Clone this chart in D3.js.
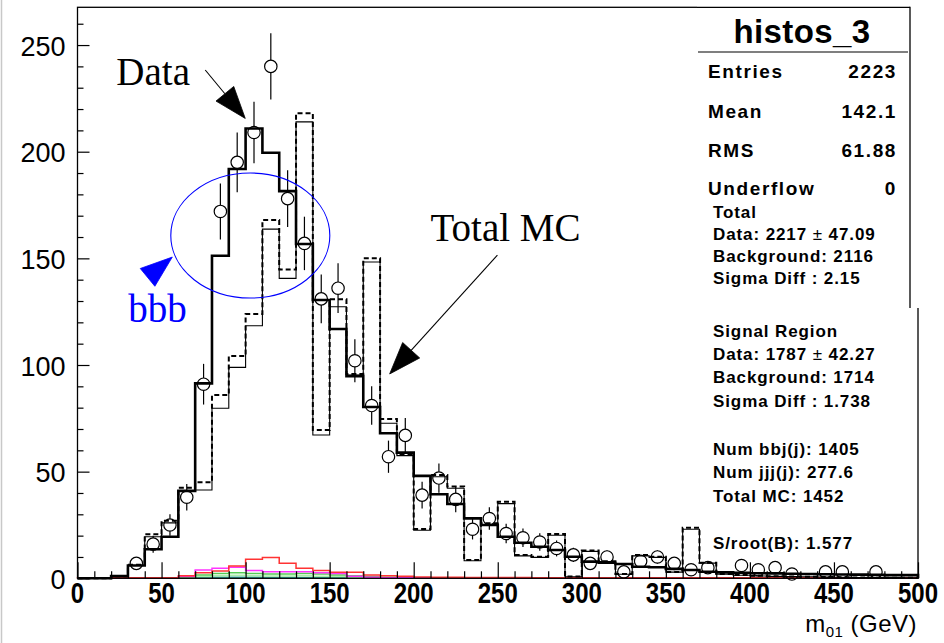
<!DOCTYPE html>
<html>
<head>
<meta charset="utf-8">
<script src="https://cdn.jsdelivr.net/npm/d3@7"></script>
<style>
  body { margin: 0; background: #fff; }
  svg { display: block; font-family: "Liberation Sans", Arial, Helvetica, sans-serif; }
</style>
</head>
<body>
<svg id="chart" width="944" height="643"></svg>
<script>
// ---------------- DATA ----------------
const binLow = [0,10,20,30,40,50,60,70,80,90,100,110,120,130,140,150,160,170,180,190,
  200,210,220,230,240,250,260,270,280,290,300,310,320,330,340,350,360,370,380,390,
  400,410,420,430,440,450,460,470,480,490];
const binWidth = 10;

// thick solid histogram
const histThick = [0,0,1,6,13.6,19.5,41,91.4,151.2,191.9,210.9,199.5,181.5,156.7,130.5,116.9,94.8,80.3,68,58.9,
  48,39.4,34.8,28.1,25,19.5,16.7,14.8,13.3,10.1,7.8,7.3,6.7,5.4,5.2,4.4,3.9,3.1,2.8,2.6,
  2.4,2.3,2.1,2.0,1.9,1.8,1.7,1.6,1.5,1.5];
// dashed histogram (Total MC)
const histDashed = [0,0,1,6.3,20.7,27,42.5,45,85.9,104.2,123.9,168,144.8,218,69.5,130.8,95.8,150,74.7,58,
  23.1,48.4,43,8.6,25.8,35.9,10.9,10.1,20.8,0.8,13,8,2,10.9,10.1,3,23.7,7.3,2,1.5,
  1.2,1,0.8,0.7,0.6,0.5,0.4,0.3,0.3,0.2];
// thin solid histogram
const histThin = [0,0,1,6,19.5,26,41,41.4,79.7,98.9,118.4,163.7,140.6,214,67.2,127.3,95.3,148.3,72.7,57.5,
  22.5,47.6,42.2,8.2,25.2,35,10.5,9.8,20.2,0.7,12.6,7.8,1.9,10.5,9.8,2.9,23,7.1,1.9,1.4,
  1.1,0.9,0.8,0.7,0.6,0.5,0.4,0.3,0.3,0.2];
// data points (null = empty bin)
const dataCounts = [null,null,null,7,16,25,38,91,172,195,209,240,178,157,131,136,102,81,57,67,
  39,47,37,23,28,21,19,17,14,11,7,10,3,8,10,7,4,5,null,6,
  4,5,2,null,3,3,null,3,null,null];
// small coloured component histograms
const histRed = [0.3,0.3,0.3,0.3,0.3,0.3,1.2,2.6,3.4,5.8,8.9,9.7,7,4.7,3.6,2.8,2.8,1.5,1.2,1,
  0.6,0.5,0.5,0.4,0.4,0.4,0.4,0.3,0.3,0.3,0.3,0.3,0.3,0.3,0.3,0.3,0.3,0.3,0.3,0.3,
  0.3,0.3,0.3,0.3,0.3,0.3,0.3,0.3,0.3,0.3];
const histMagenta = [0,0,0,0,0,0,0.8,3.9,4.7,5.2,3.6,3.1,3.1,3.1,2.6,2.3,1,0.5,0.3,0.2,
  0.2,0.1,0.1,0.1,0.1,0,0,0,0,0,0,0,0,0,0,0,0,0,0,0,0,0,0,0,0,0,0,0,0,0];
const histGreen = [0,0,0,0,0,0,0.5,1.5,2.3,2.6,2.3,2,2,2.3,2,1.5,1.2,0.8,0.5,0.4,
  0.3,0.3,0.2,0.2,0.2,0.1,0.1,0.1,0.1,0.1,0,0,0,0,0,0,0,0,0,0,0,0,0,0,0,0,0,0,0,0];
const histLightGreen = [0,0,0,0,0,0,0.3,0.8,1.2,1.4,1.2,1.1,1.1,1.2,1,0.8,0.6,0.4,0.3,0.2,
  0.2,0.1,0.1,0.1,0.1,0,0,0,0,0,0,0,0,0,0,0,0,0,0,0,0,0,0,0,0,0,0,0,0,0];
const histTeal = [0,0,0,0,0,0,0.2,0.4,0.5,0.5,0.5,0.4,0.4,0.4,0.3,0.3,0.2,0.2,0.1,0.1,
  0.1,0.1,0,0,0,0,0,0,0,0,0,0,0,0,0,0,0,0,0,0,0,0,0,0,0,0,0,0,0,0];

const yMajorTicks = [0,50,100,150,200,250];
const yMinorTicks = [10,20,30,40,60,70,80,90,110,120,130,140,160,170,180,190,210,220,230,240,260];
const xMajorTicks = [0,50,100,150,200,250,300,350,400,450,500];
const xMinorTicks = [10,20,30,40,60,70,80,90,110,120,130,140,160,170,180,190,210,220,230,240,
  260,270,280,290,310,320,330,340,360,370,380,390,410,420,430,440,460,470,480,490];

const statTitle = "histos_3";
const statRows = [["Entries","2223"],["Mean","142.1"],["RMS","61.88"],["Underflow","0"]];
const statLines = [
  ["Total"], ["Data: 2217 ", "\u00b1", " 47.09"], ["Background: 2116"], ["Sigma Diff : 2.15"],
  ["Signal Region"], ["Data: 1787 ", "\u00b1", " 42.27"], ["Background: 1714"], ["Sigma Diff : 1.738"],
  ["Num bbj(j): 1405"], ["Num jjj(j): 277.6"], ["Total MC: 1452"], ["S/root(B): 1.577"]
];

// annotations in data coordinates
const annoTexts = [
  {t:"Data", x:23.1, y:231.2, color:"#000"},
  {t:"Total MC", x:210, y:158.2, color:"#000"},
  {t:"bbb", x:30.2, y:120.3, color:"#0000ff"}
];
const annoArrows = [
  {x0:76, y0:238.3, x1:99.8, y1:215.6, color:"#000", shaft:true},
  {x0:249.8, y0:151.5, x1:185.7, y1:95.8, color:"#000", shaft:true},
  {x0:41.1, y0:140.7, x1:56.4, y1:150.6, color:"#0000ff", shaft:false}
];
const annoEllipse = {cx:102.8, cy:160.7, rx:47.3, ry:29.3};

// ---------------- DRAW ----------------
const svg = d3.select("#chart");
const x = d3.scaleLinear().domain([0,500]).range([77.5,918]);
const y = d3.scaleLinear().domain([0,267.7]).range([578.3,7.3]);

// left grey edge line
svg.append("line").attr("x1",1.5).attr("x2",1.5).attr("y1",0).attr("y2",643)
  .attr("stroke","#c8c8c8").attr("stroke-width",1.5);

const plot = svg.append("g");

function stepPoints(vals){
  const pts = [[binLow[0], 0]];
  vals.forEach((v,i)=>{ pts.push([binLow[i], v]); pts.push([binLow[i]+binWidth, v]); });
  pts.push([binLow[binLow.length-1]+binWidth, 0]);
  return pts;
}
const line = d3.line().x(d=>x(d[0])).y(d=>y(d[1]));

function drawHist(vals, stroke, width, dash){
  plot.append("path").attr("d", line(stepPoints(vals)))
    .attr("fill","none").attr("stroke",stroke).attr("stroke-width",width)
    .attr("stroke-dasharray", dash || null).attr("stroke-linejoin","miter");
}
drawHist(histTeal, "#33aa99", 1.5);
drawHist(histLightGreen, "#aaeeaa", 1.5);
drawHist(histGreen, "#55cc55", 1.5);
drawHist(histMagenta, "#ff33ff", 1.5);
drawHist(histRed, "#ff3333", 1.5);
drawHist(histThin, "#000", 1.1);
drawHist(histDashed, "#000", 2, "5,3");
drawHist(histThick, "#000", 2.6);

// data points with sqrt(N) errors
const r = 6.2;
const pts = dataCounts.map((v,i)=>({v, xc: binLow[i]+binWidth/2})).filter(d=>d.v!==null);
const dg = plot.append("g");
pts.forEach(d=>{
  const cx = x(d.xc), cy = y(d.v), e = Math.sqrt(d.v);
  const top = y(d.v + e), bot = y(Math.max(0, d.v - e));
  if (cy - r > top) dg.append("line").attr("x1",cx).attr("x2",cx).attr("y1",top).attr("y2",cy-r)
      .attr("stroke","#000").attr("stroke-width",1.2);
  if (cy + r < bot) dg.append("line").attr("x1",cx).attr("x2",cx).attr("y1",cy+r).attr("y2",bot)
      .attr("stroke","#000").attr("stroke-width",1.2);
  dg.append("circle").attr("cx",cx).attr("cy",cy).attr("r",r)
    .attr("fill","none").attr("stroke","#000").attr("stroke-width",1.2);
});

// frame
svg.append("rect").attr("x",x(0)).attr("y",y(267.7)).attr("width",x(500)-x(0)).attr("height",y(0)-y(267.7))
  .attr("fill","none").attr("stroke","#000").attr("stroke-width",1.3);

// y axis
const yAxisMajor = d3.axisLeft(y).tickValues(yMajorTicks).tickSizeInner(-12).tickSizeOuter(0).tickPadding(12);
const ya = svg.append("g").attr("transform",`translate(${x(0)},0)`).call(yAxisMajor);
ya.select(".domain").remove();
ya.selectAll("line").attr("stroke","#000").attr("stroke-width",1.2);
ya.selectAll("text").attr("font-size",27).attr("fill","#000")
  .attr("font-family","'Liberation Sans', Arial, sans-serif").attr("dy","0.37em");
const ym = svg.append("g").attr("transform",`translate(${x(0)},0)`)
  .call(d3.axisLeft(y).tickValues(yMinorTicks).tickSizeInner(-6).tickSizeOuter(0).tickFormat(""));
ym.select(".domain").remove();
ym.selectAll("line").attr("stroke","#000").attr("stroke-width",1.2);

// x axis
const xa = svg.append("g").attr("transform",`translate(0,${y(0)})`)
  .call(d3.axisBottom(x).tickValues(xMajorTicks).tickSizeInner(-16).tickSizeOuter(0).tickFormat(""));
xa.select(".domain").remove();
xa.selectAll("line").attr("stroke","#000").attr("stroke-width",1.2);
const xm = svg.append("g").attr("transform",`translate(0,${y(0)})`)
  .call(d3.axisBottom(x).tickValues(xMinorTicks).tickSizeInner(-7).tickSizeOuter(0).tickFormat(""));
xm.select(".domain").remove();
xm.selectAll("line").attr("stroke","#000").attr("stroke-width",1.2);
svg.append("g").selectAll("text").data(xMajorTicks).join("text")
  .attr("transform", d=>`translate(${x(d)},603) scale(0.8,1)`)
  .attr("text-anchor","middle").attr("font-size",30).attr("font-weight","bold").attr("fill","#000")
  .text(d=>d);

// x axis title
const xt = svg.append("text").attr("x",917).attr("y",632).attr("text-anchor","end")
  .attr("font-size",24).attr("letter-spacing","0.5px").attr("fill","#000");
xt.append("tspan").text("m");
xt.append("tspan").attr("font-size",15).attr("dy",5).text("01");
xt.append("tspan").attr("dy",-5).text(" (GeV)");

// annotations
svg.append("ellipse").attr("cx",x(annoEllipse.cx)).attr("cy",y(annoEllipse.cy))
  .attr("rx",x(annoEllipse.cx+annoEllipse.rx)-x(annoEllipse.cx))
  .attr("ry",y(annoEllipse.cy)-y(annoEllipse.cy+annoEllipse.ry))
  .attr("fill","none").attr("stroke","#0000ff").attr("stroke-width",1.1);

annoArrows.forEach(a=>{
  const X0=x(a.x0),Y0=y(a.y0),X1=x(a.x1),Y1=y(a.y1);
  const dx=X1-X0, dy=Y1-Y0, L=Math.hypot(dx,dy), ux=dx/L, uy=dy/L;
  const hl=32, hw=11.5;
  const bx=X1-ux*hl, by=Y1-uy*hl;
  if (a.shaft) svg.append("line").attr("x1",X0).attr("y1",Y0).attr("x2",bx).attr("y2",by)
     .attr("stroke",a.color).attr("stroke-width",1.1);
  svg.append("path").attr("d",`M${X1},${Y1}L${bx-uy*hw},${by+ux*hw}L${bx+uy*hw},${by-ux*hw}Z`)
     .attr("fill",a.color).attr("stroke",a.color).attr("stroke-width",0.8);
});
annoTexts.forEach(t=>{
  svg.append("text").attr("x",x(t.x)).attr("y",y(t.y)).attr("fill",t.color)
    .attr("font-family","'Liberation Serif','Times New Roman',Times,serif").attr("font-size",39).text(t.t);
});

// stat box
const sb = svg.append("g");
sb.append("rect").attr("x",697).attr("y",0).attr("width",247).attr("height",308).attr("fill","#fff");
sb.append("line").attr("x1",697).attr("x2",910).attr("y1",y(267.7)).attr("y2",y(267.7)).attr("stroke","#000").attr("stroke-width",1.3);
sb.append("line").attr("x1",910).attr("x2",910).attr("y1",y(267.7)-0.6).attr("y2",308).attr("stroke","#000").attr("stroke-width",1.3);
sb.append("line").attr("x1",698).attr("x2",908).attr("y1",52).attr("y2",52).attr("stroke","#000").attr("stroke-width",1.1);
sb.append("text").attr("x",802).attr("y",43).attr("text-anchor","middle").attr("font-size",33)
  .attr("font-weight","bold").attr("letter-spacing","0.4px").text(statTitle);
const rowY = [78,118,157,195];
statRows.forEach((rw,i)=>{
  sb.append("text").attr("x",708).attr("y",rowY[i]).attr("font-size",19).attr("font-weight","bold")
    .attr("letter-spacing","1.6px").text(rw[0]);
  sb.append("text").attr("x",897).attr("y",rowY[i]).attr("text-anchor","end").attr("font-size",19)
    .attr("font-weight","bold").attr("letter-spacing","1.6px").text(rw[1]);
});
const lineY = [218,240,262,284,337,360,383,407,455,478,502,549];
statLines.forEach((parts,i)=>{
  const t = svg.append("text").attr("x",713).attr("y",lineY[i]).attr("font-size",17)
    .attr("font-weight","bold").attr("letter-spacing","0.9px");
  parts.forEach(p=>{
    const ts = t.append("tspan").text(p);
    if (p === "\u00b1") ts.attr("font-weight","normal");
  });
});
</script>
</body>
</html>
